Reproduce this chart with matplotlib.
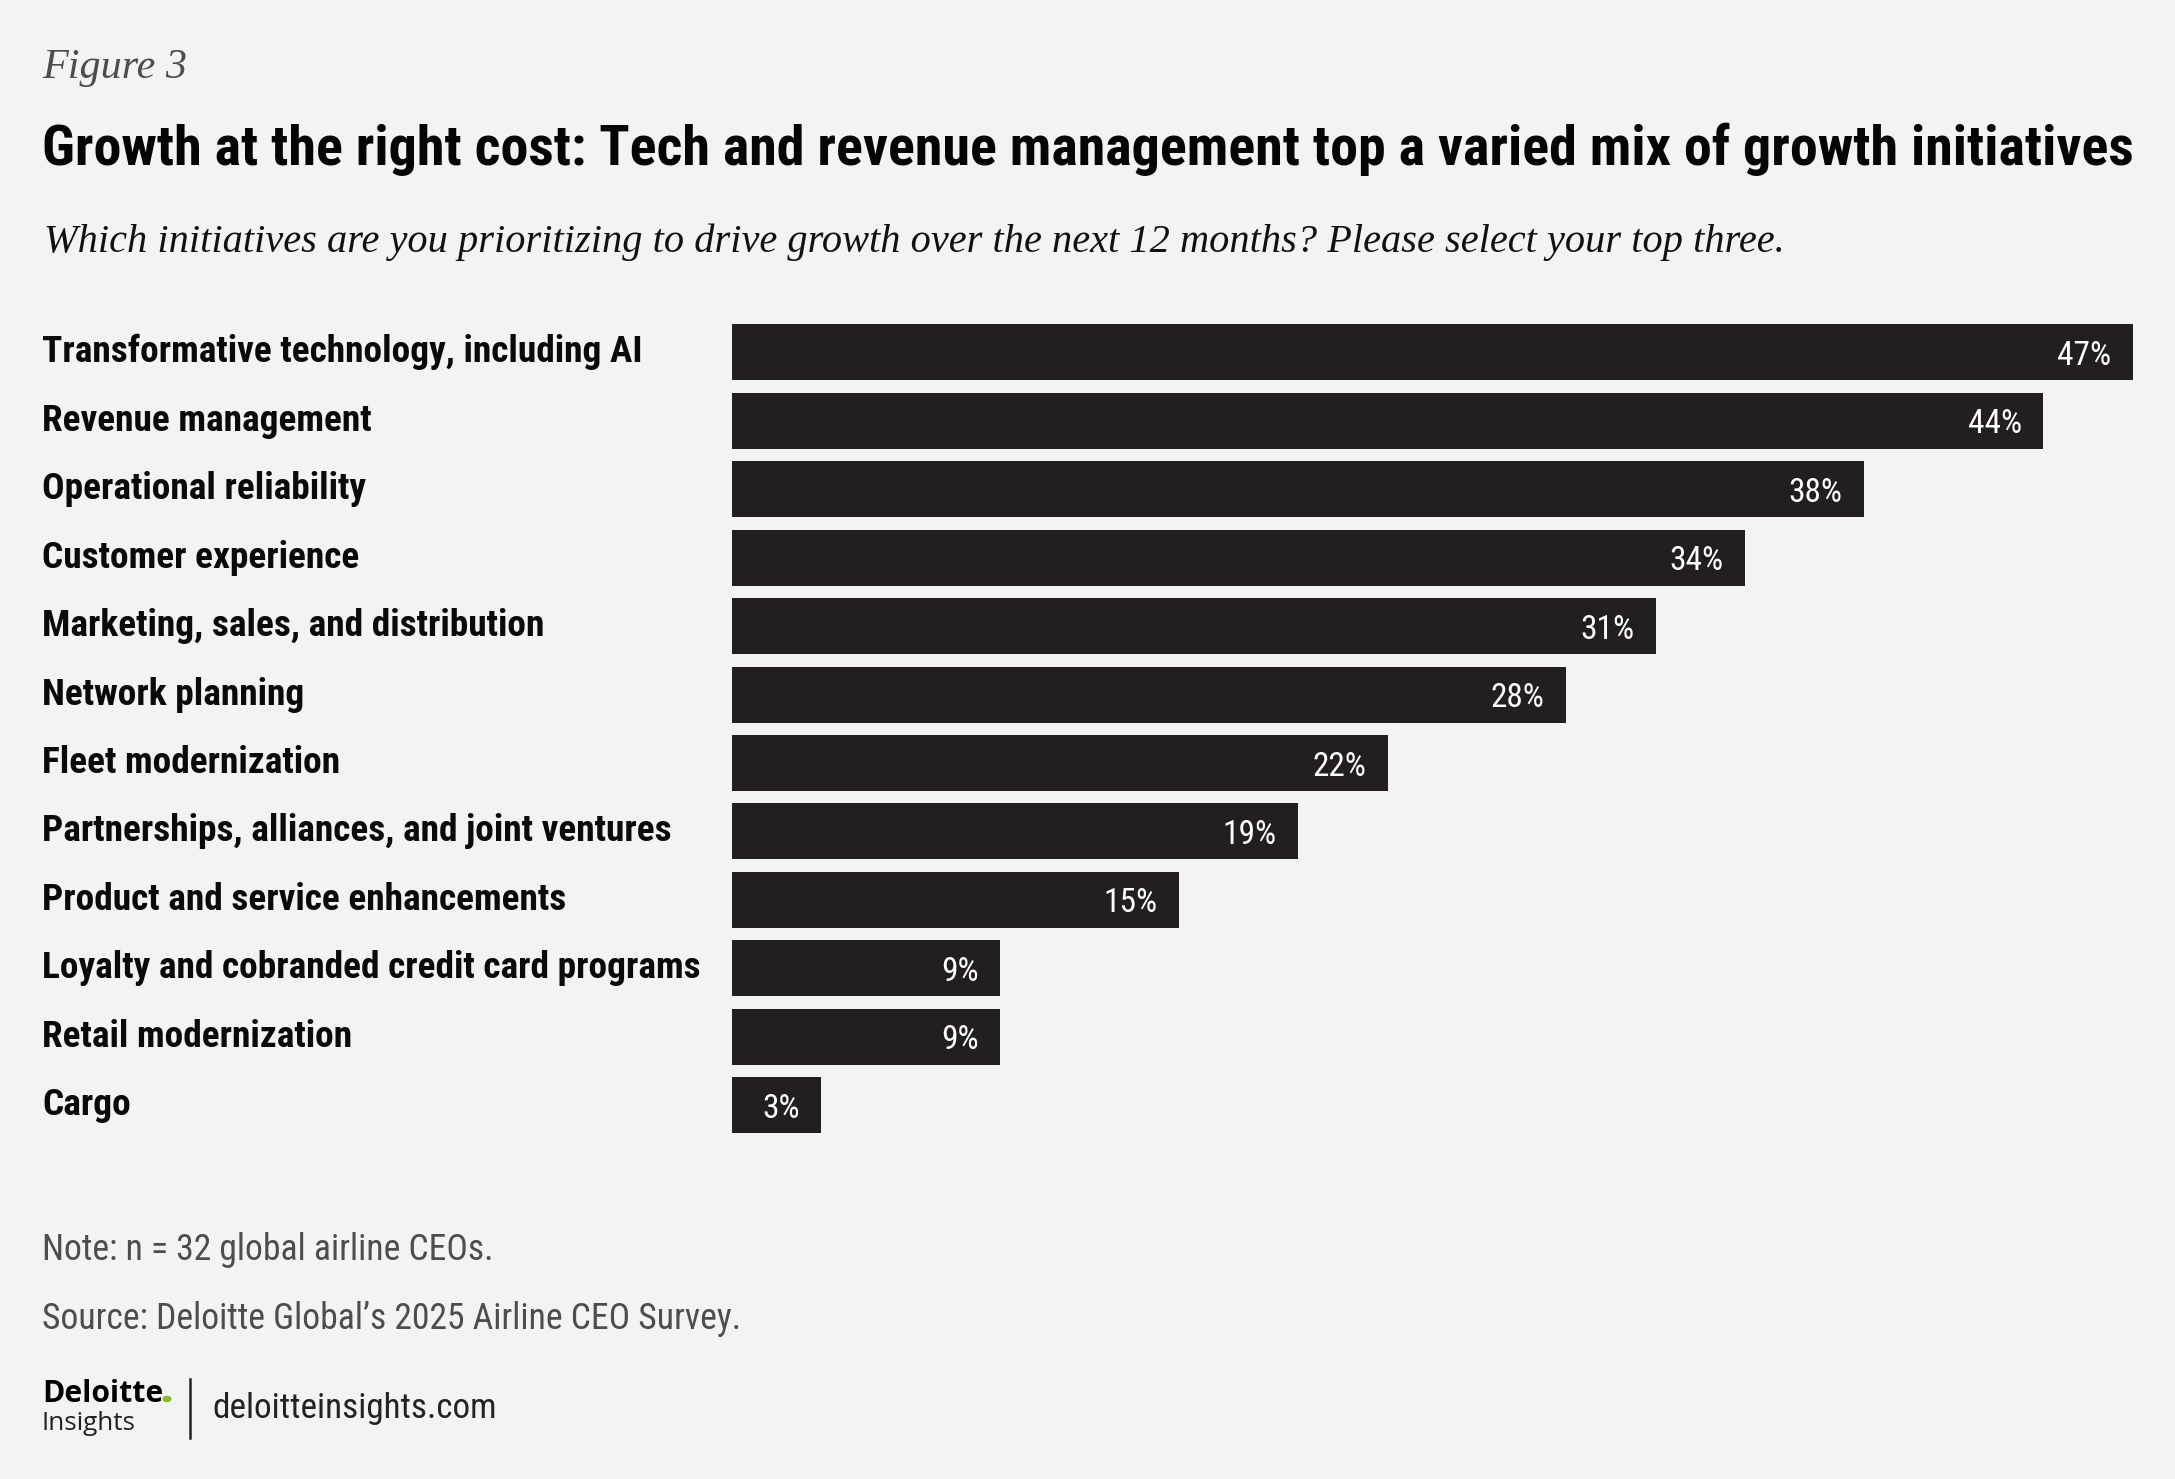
import matplotlib
matplotlib.use('Agg')
import matplotlib.pyplot as plt
from matplotlib import font_manager
from matplotlib.transforms import blended_transform_factory

# data
categories = [
    'Transformative technology, including AI',
    'Revenue management',
    'Operational reliability',
    'Customer experience',
    'Marketing, sales, and distribution',
    'Network planning',
    'Fleet modernization',
    'Partnerships, alliances, and joint ventures',
    'Product and service enhancements',
    'Loyalty and cobranded credit card programs',
    'Retail modernization',
    'Cargo',
]
values = [47, 44, 38, 34, 31, 28, 22, 19, 15, 9, 9, 3]
value_labels = ['%d%%' % v for v in values]

fig_label = 'Figure 3'
title = 'Growth at the right cost: Tech and revenue management top a varied mix of growth initiatives'
subtitle = 'Which initiatives are you prioritizing to drive growth over the next 12 months? Please select your top three.'
note = 'Note: n = 32 global airline CEOs.'
source = 'Source: Deloitte Global\u2019s 2025 Airline CEO Survey.'

W, H = 2175, 1479
BG = '#f3f3f3'
BAR = '#231f20'
GREY = '#4d4d4d'

available = {f.name for f in font_manager.fontManager.ttflist}


def pick(*names):
    for n in names:
        if n in available:
            return n
    return 'DejaVu Sans'


narrow = pick('Liberation Sans Narrow', 'Roboto Condensed', 'Open Sans Condensed', 'Roboto')
serif = pick('Liberation Serif', 'DejaVu Serif')
plain = pick('Open Sans', 'Noto Sans', 'Lato', 'DejaVu Sans')


def fx(px):
    return px / W


def fy(px):
    return 1 - px / H


def fit(t, width_px, renderer, cap=None):
    w = t.get_window_extent(renderer).width
    fs = t.get_fontsize() * width_px / w
    if cap is not None:
        fs = min(fs, cap)
    t.set_fontsize(fs)
    return fs


fig = plt.figure(figsize=(W / 100, H / 100), dpi=100, facecolor=BG)
ax = fig.add_axes([fx(732), fy(1139.5), fx(732 + 29.8 * 48) - fx(732), 821.4 / H])
ax.set_facecolor(BG)
ypos = list(range(len(categories)))
ax.barh(ypos, values, height=0.818, color=BAR)
ax.set_xlim(0, 48)
ax.set_ylim(len(categories) - 0.5, -0.5)
ax.axis('off')

for y, v, lab in zip(ypos, values, value_labels):
    ax.annotate(lab, (v, y), xytext=(-15.5, 0), textcoords='offset points',
                ha='right', va='center_baseline', color='white', fontsize=24,
                family=narrow)

renderer = fig.canvas.get_renderer()

trans = blended_transform_factory(fig.transFigure, ax.transData)
cat_texts = []
for y, c in zip(ypos, categories):
    t = ax.text(fx(42), y, c, transform=trans, ha='left', va='center',
                fontsize=27, fontweight='bold', family=narrow, color='#0a0a0a')
    cat_texts.append(t)
longest = max(cat_texts, key=lambda t: t.get_window_extent(renderer).width)
fs = fit(longest, 660, renderer, cap=28)
for t in cat_texts:
    t.set_fontsize(fs)

t = fig.text(fx(42), fy(78), fig_label, ha='left', va='baseline', fontsize=30,
             style='italic', family=serif, color=GREY)
fit(t, 145, renderer)

t = fig.text(fx(42), fy(165), title, ha='left', va='baseline', fontsize=40,
             fontweight='black', family=narrow, color='#050505')
fit(t, 2087, renderer)

t = fig.text(fx(44), fy(252), subtitle, ha='left', va='baseline', fontsize=27,
             style='italic', family=serif, color='#111111')
fit(t, 1738, renderer)

t_note = fig.text(fx(42), fy(1260), note, ha='left', va='baseline', fontsize=26,
                  family=narrow, color=GREY)
t_src = fig.text(fx(42), fy(1329), source, ha='left', va='baseline', fontsize=26,
                 family=narrow, color=GREY)
fs = fit(t_src, 700, renderer)
t_note.set_fontsize(fs)

# logo block
t = fig.text(fx(42), fy(1402), 'Deloitte', ha='left', va='baseline', fontsize=22,
             fontweight='bold', family=plain, color='black')
fit(t, 121, renderer)
fig.patches.append(matplotlib.patches.Circle((fx(167), fy(1399)), 3.8 / W,
                                             transform=fig.transFigure,
                                             color='#86bc25'))
t = fig.text(fx(42), fy(1430), 'Insights', ha='left', va='baseline', fontsize=20,
             family=plain, color='#222222')
fit(t, 94, renderer)
fig.add_artist(plt.Line2D([fx(190), fx(190)], [fy(1379), fy(1438)],
                          transform=fig.transFigure, color='#222222', lw=1.8))
t = fig.text(fx(212), fy(1418), 'deloitteinsights.com', ha='left', va='baseline',
             fontsize=24, family=narrow, color='#222222')
fit(t, 285, renderer)

fig.savefig('out.png', dpi=100, facecolor=BG)
